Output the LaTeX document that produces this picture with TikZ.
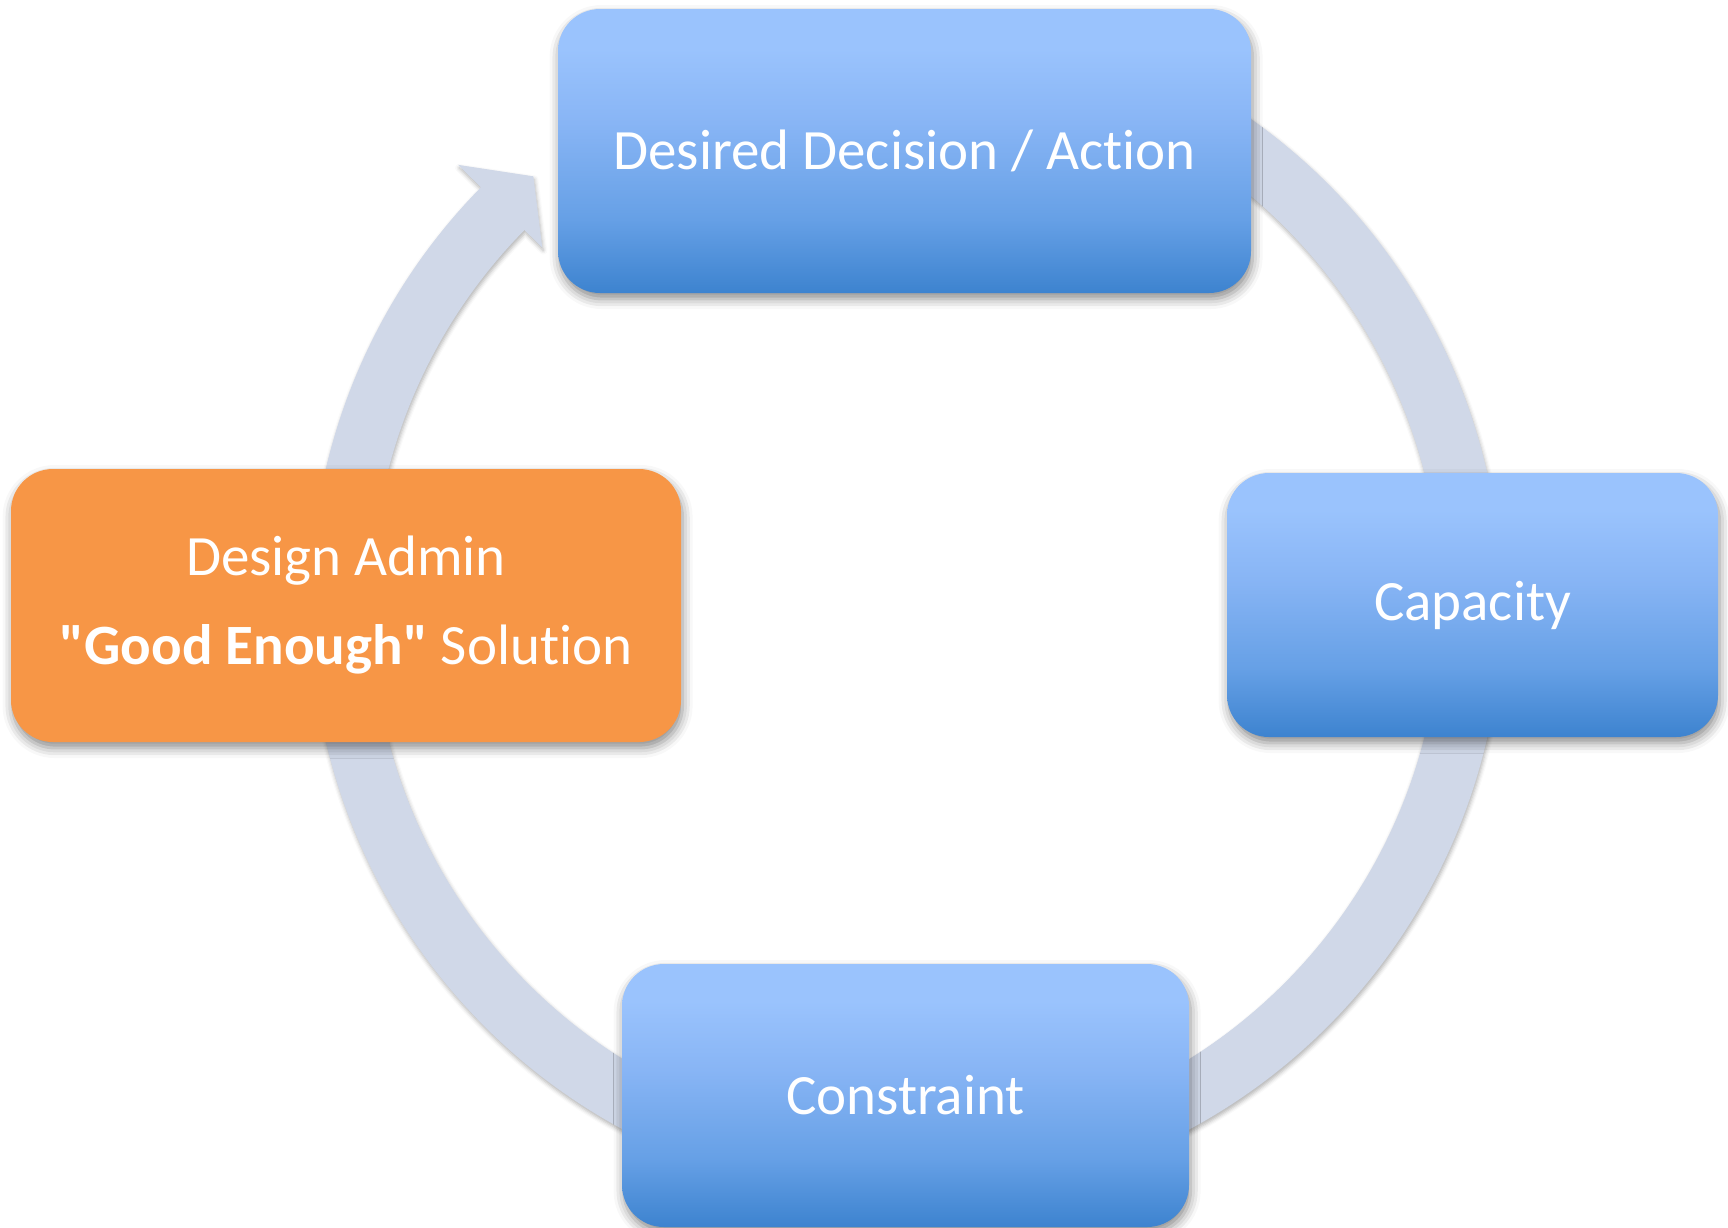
\documentclass[tikz,border=0pt]{standalone}
\usepackage{fontspec}
\setmainfont{Carlito}[Ligatures={TeXOff,CommonOff}]
\usetikzlibrary{calc,shadows.blur}
\definecolor{ringcol}{HTML}{D0D8E8}
\definecolor{btop}{HTML}{9AC3FD}
\definecolor{bmid}{HTML}{88B5F5}
\definecolor{blow}{HTML}{66A0E6}
\definecolor{bbot}{HTML}{3D83CF}
\definecolor{orangefill}{HTML}{F79646}
\pgfdeclareverticalshading{boxshade}{100bp}{color(0bp)=(bbot); color(25bp)=(bbot); color(38bp)=(blow); color(55bp)=(bmid); color(68bp)=(btop); color(100bp)=(btop)}
\tikzset{
  box/.style={rounded corners=21pt, inner sep=0pt, text=white,
    font=\fontsize{28.5pt}{44.5pt}\selectfont, align=center,
    blur shadow={shadow xshift=0.8pt, shadow yshift=-3pt, shadow blur radius=5pt, shadow opacity=45}},
  bluebox/.style={box, shading=boxshade},
  orangebox/.style={box, fill=orangefill},
  ringshape/.style={fill=ringcol,
    blur shadow={shadow xshift=0.5pt, shadow yshift=-1.5pt, shadow blur radius=2pt, shadow opacity=30}},
}
\begin{document}
\begin{tikzpicture}[x=0.5pt,y=0.5pt]
\useasboundingbox (0,0) rectangle (1728,-1227);
\coordinate (C) at (906,-605);
% circular arrow
\path[ringshape] ($(C)+(60:298pt)$) arc[start angle=60, end angle=-224.5, radius=298pt]
  -- ($(C)+(135.5:314pt)$) -- ($(C)+(131:284pt)$) -- ($(C)+(135.5:255pt)$)
  -- ($(C)+(135.5:267.5pt)$) arc[start angle=-224.5, end angle=60, radius=267.5pt] -- cycle;
% boxes
\node[bluebox, minimum width=346.5pt, minimum height=142pt] (desired) at (904.5,-151) {Desired Decision / Action};
\node[bluebox, minimum width=245.5pt, minimum height=132pt] (capacity) at (1472.5,-605) {Capacity};
\node[bluebox, minimum width=283.5pt, minimum height=131.5pt] (constraint) at (905.5,-1095.5) {Constraint};
\node[orangebox, minimum width=335pt, minimum height=136.5pt] (solution) at (346,-605.5) {Design Admin\\{\bfseries "Good Enough"} Solution};
\end{tikzpicture}
\end{document}
